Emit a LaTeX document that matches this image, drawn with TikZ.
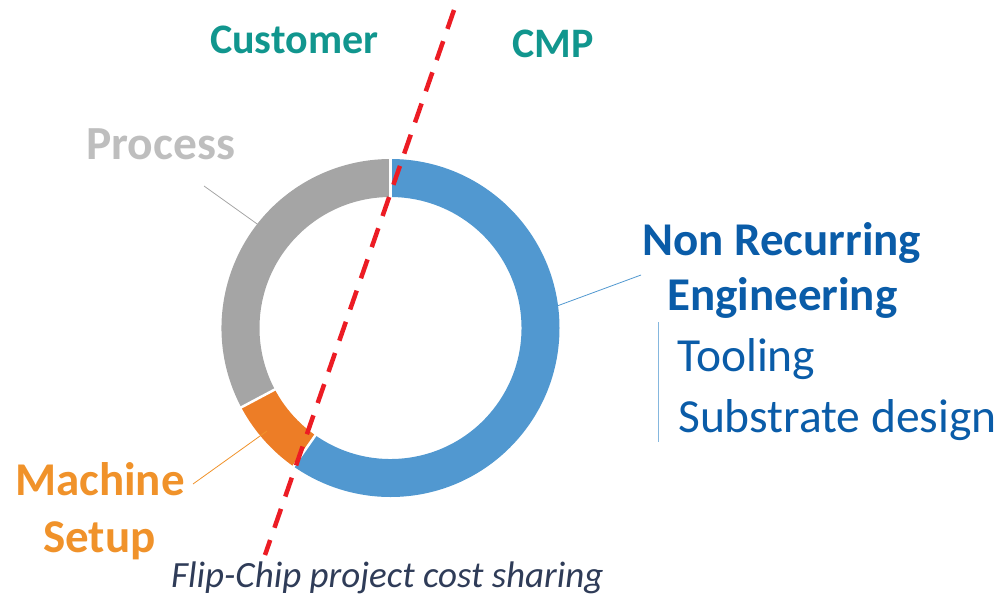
\documentclass[tikz,border=0pt]{standalone}
\usepackage{fontspec}
\setmainfont{Carlito}
\usetikzlibrary{calc}
\definecolor{teal1}{RGB}{17,150,142}
\definecolor{grayT}{RGB}{190,190,190}
\definecolor{grayS}{RGB}{165,165,165}
\definecolor{blueS}{RGB}{81,152,208}
\definecolor{blueT}{RGB}{10,92,168}
\definecolor{orangeS}{RGB}{237,125,38}
\definecolor{orangeT}{RGB}{240,146,42}
\definecolor{navyT}{RGB}{47,60,88}
\definecolor{redL}{RGB}{236,28,36}
\tikzset{
  lbl/.style={inner sep=0pt, anchor=base west},
  leader/.style={line width=0.8pt},
}
\begin{document}
\begin{tikzpicture}[x=1pt,y=1pt]
\useasboundingbox (0,0) rectangle (1005,-595);
\coordinate (c) at (390.5,-328);
\def\Ro{169}
\def\Ri{131}
% segments
\fill[blueS] ($(c)+(90:\Ro)$) arc[start angle=90,end angle=-125,radius=\Ro] -- ($(c)+(-125:\Ri)$) arc[start angle=-125,end angle=90,radius=\Ri] -- cycle;
\fill[orangeS] ($(c)+(-125:\Ro)$) arc[start angle=-125,end angle=-152,radius=\Ro] -- ($(c)+(-152:\Ri)$) arc[start angle=-152,end angle=-125,radius=\Ri] -- cycle;
\fill[grayS] ($(c)+(-152:\Ro)$) arc[start angle=-152,end angle=-270,radius=\Ro] -- ($(c)+(-270:\Ri)$) arc[start angle=-270,end angle=-152,radius=\Ri] -- cycle;
\foreach \a in {90,-125,-152}{
  \draw[white, line width=2.5pt] ($(c)+(\a:\Ri-1)$) -- ($(c)+(\a:\Ro+1)$);
}
% texts
\node[lbl, text=teal1, font=\bfseries\fontsize{42}{42}\selectfont] (cust) at (210,-53) {Customer};
\node[lbl, text=teal1, font=\bfseries\fontsize{42}{42}\selectfont] (cmp) at (512,-57) {CMP};
\node[lbl, text=grayT, font=\bfseries\fontsize{47.5}{47.5}\selectfont] (proc) at (86,-159) {Process};
\node[lbl, text=blueT, font=\bfseries\fontsize{47}{47}\selectfont] (nre1) at (642,-255) {Non Recurring};
\node[lbl, text=blueT, font=\bfseries\fontsize{47}{47}\selectfont] (nre2) at (667,-310) {Engineering};
\node[lbl, text=blueT, font=\fontsize{47.5}{47.5}\selectfont] (tool) at (677,-371) {Tooling};
\node[lbl, text=blueT, font=\fontsize{47.5}{47.5}\selectfont] (subs) at (678,-432) {Substrate design};
\node[lbl, text=orangeT, font=\bfseries\fontsize{47}{47}\selectfont] (mach) at (15,-495) {Machine};
\node[lbl, text=orangeT, font=\bfseries\fontsize{47}{47}\selectfont] (setup) at (43,-552) {Setup};
\node[lbl, text=navyT, font=\itshape\fontsize{37}{37}\selectfont] (title) at (171,-587) {Flip-Chip project cost sharing};
% leaders
\coordinate (pA) at (204,-186); \coordinate (pB) at (267,-231);
\draw[leader, grayS] (pA) -- (pB);
\coordinate (mA) at (193,-484); \coordinate (mB) at (267,-431);
\draw[leader, orangeT] (mA) -- (mB);
\coordinate (nA) at (557,-306); \coordinate (nB) at (641,-275);
\draw[leader, blueS] (nA) -- (nB);
\coordinate (vA) at (658,-322); \coordinate (vB) at (658,-442);
\draw[line width=1pt, blueS!70] (vA) -- (vB);
% red dashed divider
\coordinate (rA) at (454,-10); \coordinate (rB) at (265,-555);
\draw[redL, line width=4.5pt, dash pattern=on 20pt off 13pt] (rA) -- (rB);
\end{tikzpicture}
\end{document}
